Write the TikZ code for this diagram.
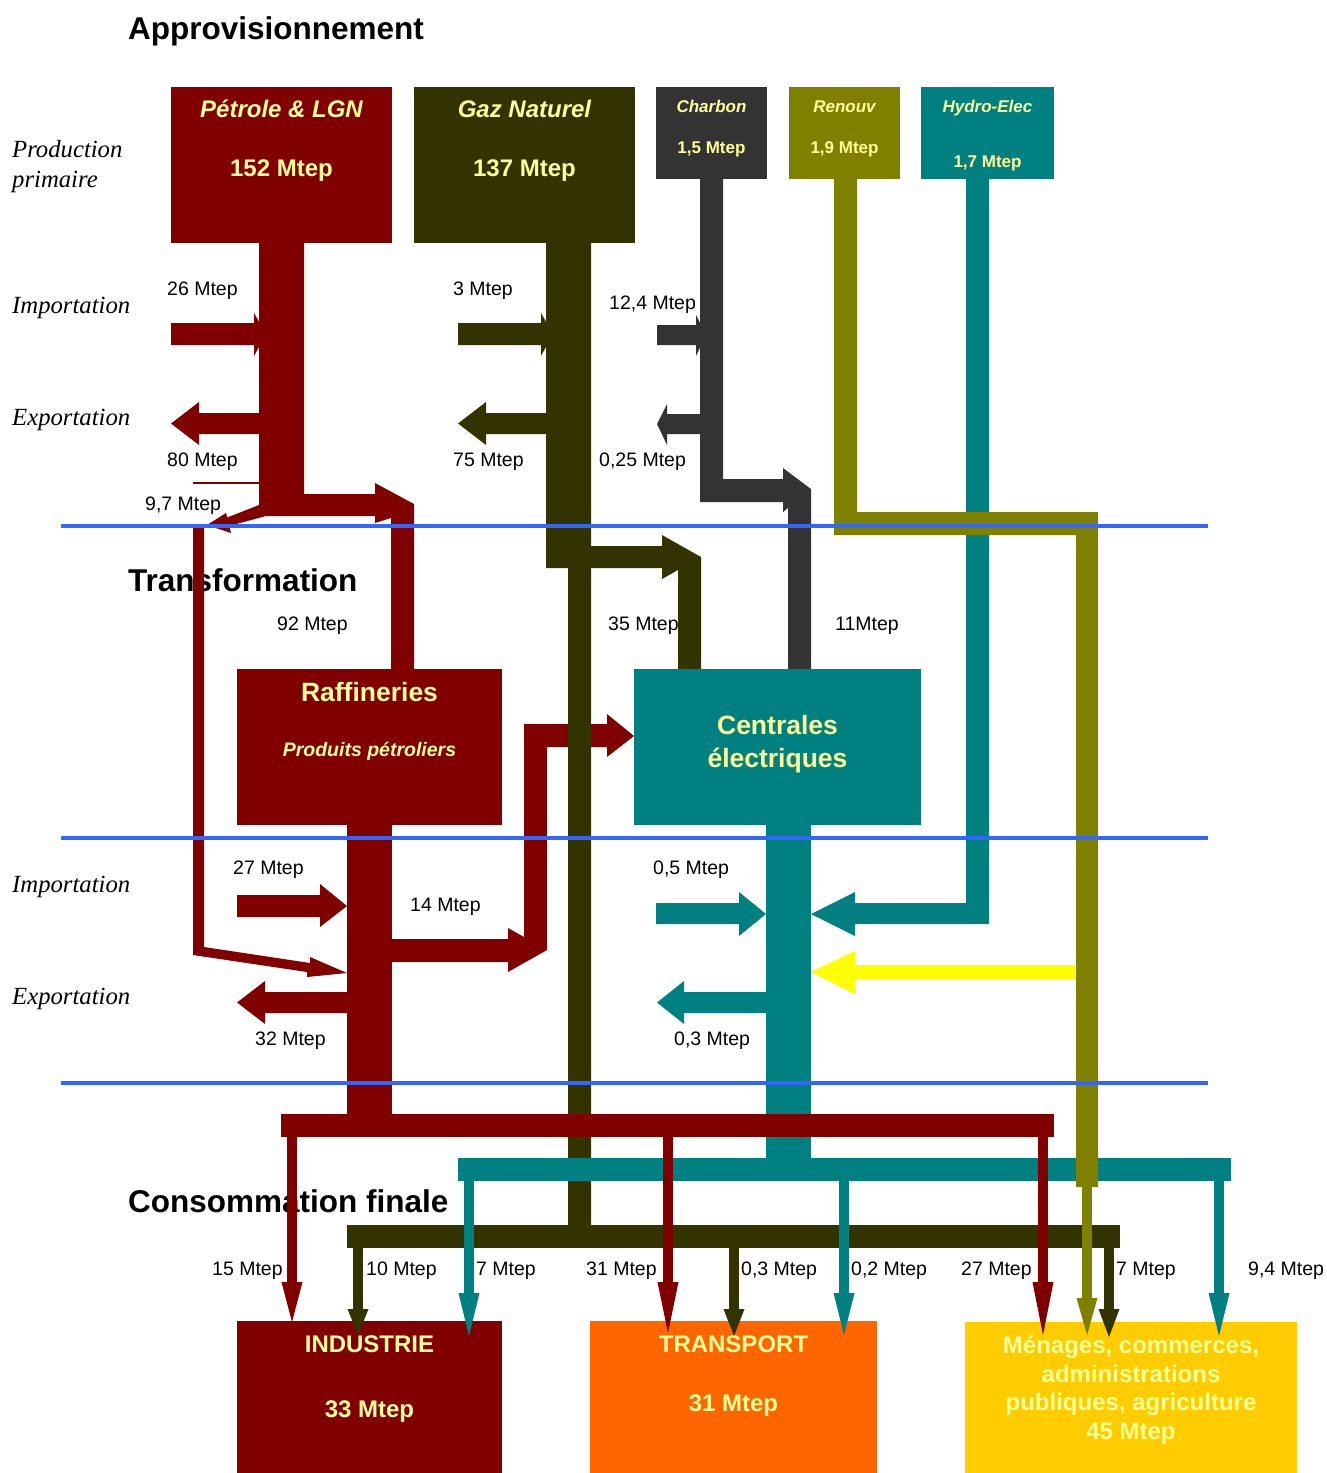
\documentclass[tikz,border=0pt]{standalone}
\usepackage{fontspec}
\setmainfont{Liberation Sans}
\newfontfamily\lserif{Liberation Serif}
\definecolor{oil}{HTML}{800000}
\definecolor{gas}{HTML}{333300}
\definecolor{coal}{HTML}{333333}
\definecolor{ren}{HTML}{808000}
\definecolor{hyd}{HTML}{008080}
\definecolor{txt}{HTML}{FFFF99}
\definecolor{blu}{HTML}{3366FF}
\definecolor{orng}{HTML}{FF6600}
\definecolor{gold}{HTML}{FFCC00}
\definecolor{yel}{HTML}{FFFF00}
\newcommand\droparr[5]{%
  \fill[#1] (#2-5,#3) rectangle (#2+5,#4);
  \fill[#1] (#2-10.5,#4) -- (#2+10.5,#4) -- (#2,#5) -- cycle;}
\begin{document}
\begin{tikzpicture}[x=1pt,y=-1pt,
  lbl/.style={anchor=base west,inner sep=0pt,font=\fontsize{19.5}{23}\selectfont},
  rowlbl/.style={anchor=base west,inner sep=0pt,font=\lserif\itshape\fontsize{24.7}{28}\selectfont},
  ttl/.style={anchor=base west,inner sep=0pt,font=\bfseries\fontsize{31.5}{36}\selectfont},
  bigb/.style={anchor=base,inner sep=0pt,text=txt,font=\bfseries\fontsize{24}{28}\selectfont},
  bigbi/.style={anchor=base,inner sep=0pt,text=txt,font=\bfseries\itshape\fontsize{24}{28}\selectfont},
  smb/.style={anchor=base,inner sep=0pt,text=txt,font=\bfseries\fontsize{17}{20}\selectfont},
  smbi/.style={anchor=base,inner sep=0pt,text=txt,font=\bfseries\itshape\fontsize{17}{20}\selectfont},
  midb/.style={anchor=base,inner sep=0pt,text=txt,font=\bfseries\fontsize{26.5}{30}\selectfont},
  menb/.style={anchor=base,inner sep=0pt,text=txt,font=\bfseries\fontsize{24}{28}\selectfont}]
\useasboundingbox[fill=white] (0,0) rectangle (1327,1473);

% ---------- titles and labels ----------
\node[ttl] (t1) at (128,39) {Approvisionnement};
\node[ttl] (t2) at (128,591) {Transformation};
\node[ttl] (t3) at (128,1212) {Consommation finale};

\node[rowlbl] (r1) at (12,157) {Production};
\node[rowlbl] (r2) at (12,187) {primaire};
\node[rowlbl] (r3) at (12,313) {Importation};
\node[rowlbl] (r4) at (12,425) {Exportation};
\node[rowlbl] (r5) at (12,892) {Importation};
\node[rowlbl] (r6) at (12,1004) {Exportation};

\node[lbl] (l1) at (167,295) {26 Mtep};
\node[lbl] (l2) at (167,466) {80 Mtep};
\node[lbl] (l3) at (145,510) {9,7 Mtep};
\node[lbl] (l4) at (453,295) {3 Mtep};
\node[lbl] (l5) at (453,466) {75 Mtep};
\node[lbl] (l6) at (609,309) {12,4 Mtep};
\node[lbl] (l7) at (599,466) {0,25 Mtep};
\node[lbl] (l8) at (277,630) {92 Mtep};
\node[lbl] (l9) at (608,630) {35 Mtep};
\node[lbl] (l10) at (835,630) {11Mtep};
\node[lbl] (l11) at (233,874) {27 Mtep};
\node[lbl] (l12) at (410,911) {14 Mtep};
\node[lbl] (l13) at (255,1045) {32 Mtep};
\node[lbl] (l14) at (653,874) {0,5 Mtep};
\node[lbl] (l15) at (674,1045) {0,3 Mtep};
\node[lbl] (b1) at (212,1275) {15 Mtep};
\node[lbl] (b2) at (366,1275) {10 Mtep};
\node[lbl] (b3) at (476,1275) {7 Mtep};
\node[lbl] (b4) at (586,1275) {31 Mtep};
\node[lbl] (b5) at (741,1275) {0,3 Mtep};
\node[lbl] (b6) at (851,1275) {0,2 Mtep};
\node[lbl] (b7) at (961,1275) {27 Mtep};
\node[lbl] (b8) at (1116,1275) {7 Mtep};
\node[lbl] (b9) at (1248,1275) {9,4 Mtep};

% ---------- oil flows ----------
\fill[oil] (259,243) -- (304,243) -- (304,516) -- (266,516) -- (259,506) -- cycle;
\fill[oil] (171,323) -- (254,323) -- (254,313) -- (266,334) -- (254,356) -- (254,345) -- (171,345) -- cycle;
\fill[oil] (259,413) -- (199,413) -- (199,402) -- (171,423.5) -- (199,445) -- (199,434) -- (259,434) -- cycle;
\draw[oil,line width=1.5pt] (193,483) -- (259,483);
\fill[oil] (304,494) -- (375,494) -- (375,483) -- (414,504) -- (414,669) -- (391,669) -- (391,518) -- (375,523) -- (375,516) -- (304,516) -- cycle;
\fill[oil] (259,505) -- (266,516) -- (229,526) -- (226,518) -- cycle;
\fill[oil] (226,513) -- (207,525) -- (231,533) -- cycle;
\fill[oil] (193,526) -- (204,526) -- (204,947) -- (310,963) -- (310,957) -- (347,973) -- (307,977) -- (307,972) -- (193,955) -- cycle;
% refinery outputs
\fill[oil] (347,825) rectangle (392,1114);
\fill[oil] (237,895) -- (320,895) -- (320,884) -- (347,906) -- (320,927) -- (320,917) -- (237,917) -- cycle;
\fill[oil] (347,992) -- (265,992) -- (265,981) -- (237,1002.5) -- (265,1024) -- (265,1013) -- (347,1013) -- cycle;
\fill[oil] (392,939) -- (508,939) -- (508,928) -- (524,937) -- (524,724) -- (607,724) -- (607,714) -- (634,736) -- (607,757) -- (607,747) -- (547,747) -- (547,950) -- (508,972) -- (508,962) -- (392,962) -- cycle;

% ---------- gas flows ----------
\fill[gas] (546,243) -- (591,243) -- (591,1225) -- (568,1225) -- (568,568) -- (546,568) -- cycle;
\fill[gas] (458,323) -- (541,323) -- (541,313) -- (553,334) -- (541,356) -- (541,345) -- (458,345) -- cycle;
\fill[gas] (546,413) -- (486,413) -- (486,402) -- (458,423.5) -- (486,445) -- (486,434) -- (546,434) -- cycle;
\fill[gas] (591,546) -- (662,546) -- (662,535) -- (701,557) -- (701,669) -- (678,669) -- (678,570) -- (662,579) -- (662,568) -- (591,568) -- cycle;

% ---------- coal flows ----------
\fill[coal] (700,179) -- (723,179) -- (723,479) -- (783,479) -- (783,468) -- (811,489) -- (811,669) -- (788,669) -- (788,508) -- (783,512) -- (783,502) -- (700,502) -- cycle;
\fill[coal] (657,325) -- (696,325) -- (696,315) -- (706,335) -- (696,356) -- (696,345) -- (657,345) -- cycle;
\fill[coal] (700,414) -- (667,414) -- (667,404) -- (657,424) -- (667,445) -- (667,434) -- (700,434) -- cycle;

% ---------- hydro and electricity ----------
\fill[hyd] (966,179) -- (989,179) -- (989,924) -- (855,924) -- (855,936) -- (811,914) -- (855,892) -- (855,903) -- (966,903) -- cycle;
\fill[hyd] (766,825) rectangle (811,1158);
\fill[hyd] (656,903) -- (739,903) -- (739,892) -- (766,914) -- (739,936) -- (739,924) -- (656,924) -- cycle;
\fill[hyd] (766,992) -- (684,992) -- (684,981) -- (657,1002.5) -- (684,1024) -- (684,1013) -- (766,1013) -- cycle;
\fill[yel] (1076,965) -- (855,965) -- (855,951) -- (811,972) -- (855,994) -- (855,979) -- (1076,979) -- cycle;

% ---------- boxes ----------
\fill[oil] (171,87) rectangle (392,243);
\node[bigbi] (p1) at (281.5,117) {Pétrole \& LGN};
\node[bigb] (p2) at (281.5,176) {152 Mtep};
\fill[gas] (414,87) rectangle (635,243);
\node[bigbi] (g1) at (524.5,117) {Gaz Naturel};
\node[bigb] (g2) at (524.5,176) {137 Mtep};
\fill[coal] (656,87) rectangle (767,179);
\node[smbi] (c1) at (711.5,112) {Charbon};
\node[smb] (c2) at (711.5,153) {1,5 Mtep};
\fill[ren] (789,87) rectangle (900,179);
\node[smbi] (n1) at (844.5,112) {Renouv};
\node[smb] (n2) at (844.5,153) {1,9 Mtep};
\fill[hyd] (921,87) rectangle (1054,179);
\node[smbi] (h1) at (987.5,112) {Hydro-Elec};
\node[smb] (h2) at (987.5,167) {1,7 Mtep};
\fill[oil] (237,669) rectangle (502,825);
\node[midb] (rf1) at (369.5,701.5) {Raffineries};
\node[anchor=base,inner sep=0pt,text=txt,font=\bfseries\itshape\fontsize{19.5}{23}\selectfont] (rf2) at (369.5,756) {Produits pétroliers};
\fill[hyd] (634,669) rectangle (921,825);
\node[midb] (ce1) at (777.5,734.5) {Centrales};
\node[midb] (ce2) at (777.5,767.5) {électriques};

% ---------- final distribution ----------
\fill[oil] (281,1114) rectangle (1054,1137);
\fill[hyd] (458,1158) rectangle (1231,1181);
\fill[ren] (834,179) -- (857,179) -- (857,512) -- (1098,512) -- (1098,1187) -- (1076,1187) -- (1076,535) -- (834,535) -- cycle;
\fill[gas] (347,1225) rectangle (1120,1248);

\fill[oil] (237,1321) rectangle (502,1473);
\node[bigb] (i1) at (369.5,1352) {INDUSTRIE};
\node[bigb] (i2) at (369.5,1417) {33 Mtep};
\fill[orng] (590,1321) rectangle (877,1473);
\node[bigb] (tr1) at (733.5,1352) {TRANSPORT};
\node[bigb] (tr2) at (733.5,1411) {31 Mtep};
\fill[gold] (965,1322) rectangle (1297,1473);
\node[menb] (m1) at (1131,1353) {Ménages, commerces,};
\node[menb] (m2) at (1131,1382) {administrations};
\node[menb] (m3) at (1131,1410) {publiques, agriculture};
\node[menb] (m4) at (1131,1439) {45 Mtep};

\droparr{oil}{292}{1137}{1282}{1322}
\droparr{gas}{358}{1248}{1309}{1335}
\droparr{hyd}{469}{1181}{1293}{1336}
\droparr{oil}{668}{1137}{1282}{1333}
\droparr{gas}{734}{1248}{1309}{1336}
\droparr{hyd}{844}{1181}{1293}{1335}
\droparr{oil}{1043}{1137}{1282}{1335}
\droparr{ren}{1087}{1187}{1298}{1335}
\droparr{gas}{1109}{1248}{1309}{1337}
\droparr{hyd}{1219}{1181}{1293}{1336}

% ---------- separators ----------
\draw[blu,line width=4pt] (61,526) -- (1208,526);
\draw[blu,line width=4pt] (61,838) -- (1208,838);
\draw[blu,line width=4pt] (61,1083) -- (1208,1083);
\end{tikzpicture}
\end{document}
